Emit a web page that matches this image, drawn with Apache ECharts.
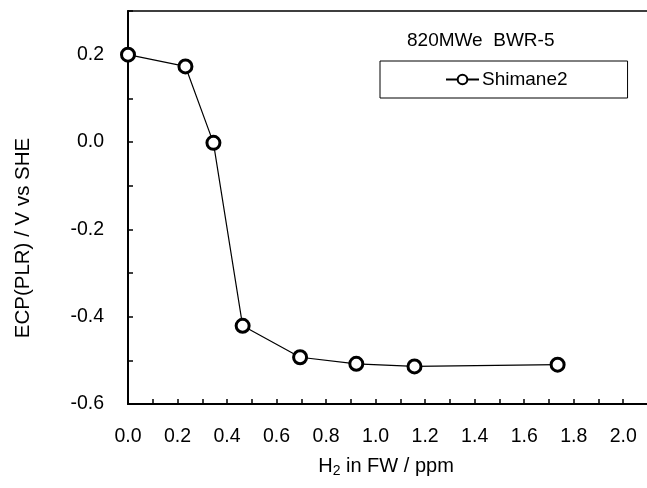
<!DOCTYPE html>
<html>
<head>
<meta charset="utf-8">
<script src="https://cdn.jsdelivr.net/npm/echarts@6/dist/echarts.min.js"></script>
<style>
html,body{margin:0;padding:0;overflow:hidden;background:#fff;}
#c{width:651px;height:488px;}
</style>
</head>
<body>
<div id="c"></div>
<script>
var seriesName = 'Shimane2';
var h2ppm = [0.0, 0.232, 0.345, 0.463, 0.695, 0.922, 1.157, 1.735];
var ecp = [0.200, 0.173, -0.002, -0.421, -0.493, -0.508, -0.514, -0.510];
var plantLabel = '820MWe  BWR-5';
var yTitle = 'ECP(PLR) / V vs SHE';

var FONT = 'Liberation Sans, Arial, sans-serif';
var chart = echarts.init(document.getElementById('c'), null, {renderer: 'canvas'});
var data = h2ppm.map(function (x, i) { return [x, ecp[i]]; });
function evenLabel(v) {
  var k = Math.round(v * 10);
  if (Math.abs(k) % 2 !== 0) return '';
  return (k / 10).toFixed(1);
}
chart.setOption({
  animation: false,
  backgroundColor: '#fff',
  textStyle: {fontFamily: FONT},
  title: {
    text: plantLabel, left: 407, top: 31, padding: 0,
    textStyle: {fontSize: 19, fontWeight: 'normal', color: '#000', fontFamily: FONT}
  },
  legend: {
    left: 380, top: 61,
    data: [seriesName],
    borderColor: '#000', borderWidth: 1,
    padding: [9, 60, 9, 65],
    itemWidth: 33, itemHeight: 12, itemGap: 0,
    textStyle: {fontSize: 19, color: '#000', fontFamily: FONT, padding: [0, 0, 0, -2]}
  },
  grid: {
    left: 128, right: 0, top: 11, bottom: 84,
    show: true, borderColor: '#000', borderWidth: 1.5
  },
  xAxis: {
    type: 'value', min: 0, max: 2.1, interval: 0.1,
    axisLine: {onZero: false, lineStyle: {color: '#000', width: 2}},
    axisTick: {inside: true, length: 5, lineStyle: {color: '#000', width: 1.5}},
    splitLine: {show: false},
    axisLabel: {formatter: evenLabel, fontSize: 19.5, color: '#000', margin: 23, fontFamily: FONT}
  },
  yAxis: {
    type: 'value', min: -0.6, max: 0.3, interval: 0.1,
    axisLine: {onZero: false, lineStyle: {color: '#000', width: 2}},
    axisTick: {inside: true, length: 5, lineStyle: {color: '#000', width: 1.5}},
    splitLine: {show: false},
    axisLabel: {formatter: evenLabel, fontSize: 19.5, color: '#000', margin: 24, fontFamily: FONT}
  },
  graphic: [
    {
      type: 'text', x: 23, y: 238, rotation: Math.PI / 2,
      style: {text: yTitle, fontSize: 20.5, fontFamily: FONT, fill: '#000', align: 'center', verticalAlign: 'middle'}
    },
    {
      type: 'text', x: 386, y: 466,
      style: {
        text: '{a|H}{b|2}{a| in FW / ppm}',
        align: 'center', verticalAlign: 'middle',
        rich: {
          a: {fontSize: 20, fontFamily: FONT, fill: '#000', color: '#000'},
          b: {fontSize: 14, fontFamily: FONT, fill: '#000', color: '#000', padding: [10, 0, 0, 0]}
        }
      }
    }
  ],
  series: [{
    name: seriesName, type: 'line', data: data,
    symbol: 'circle', symbolSize: 13,
    itemStyle: {color: '#fff', borderColor: '#000', borderWidth: 3},
    lineStyle: {color: '#000', width: 1.2},
    z: 5
  }]
});
</script>
</body>
</html>
